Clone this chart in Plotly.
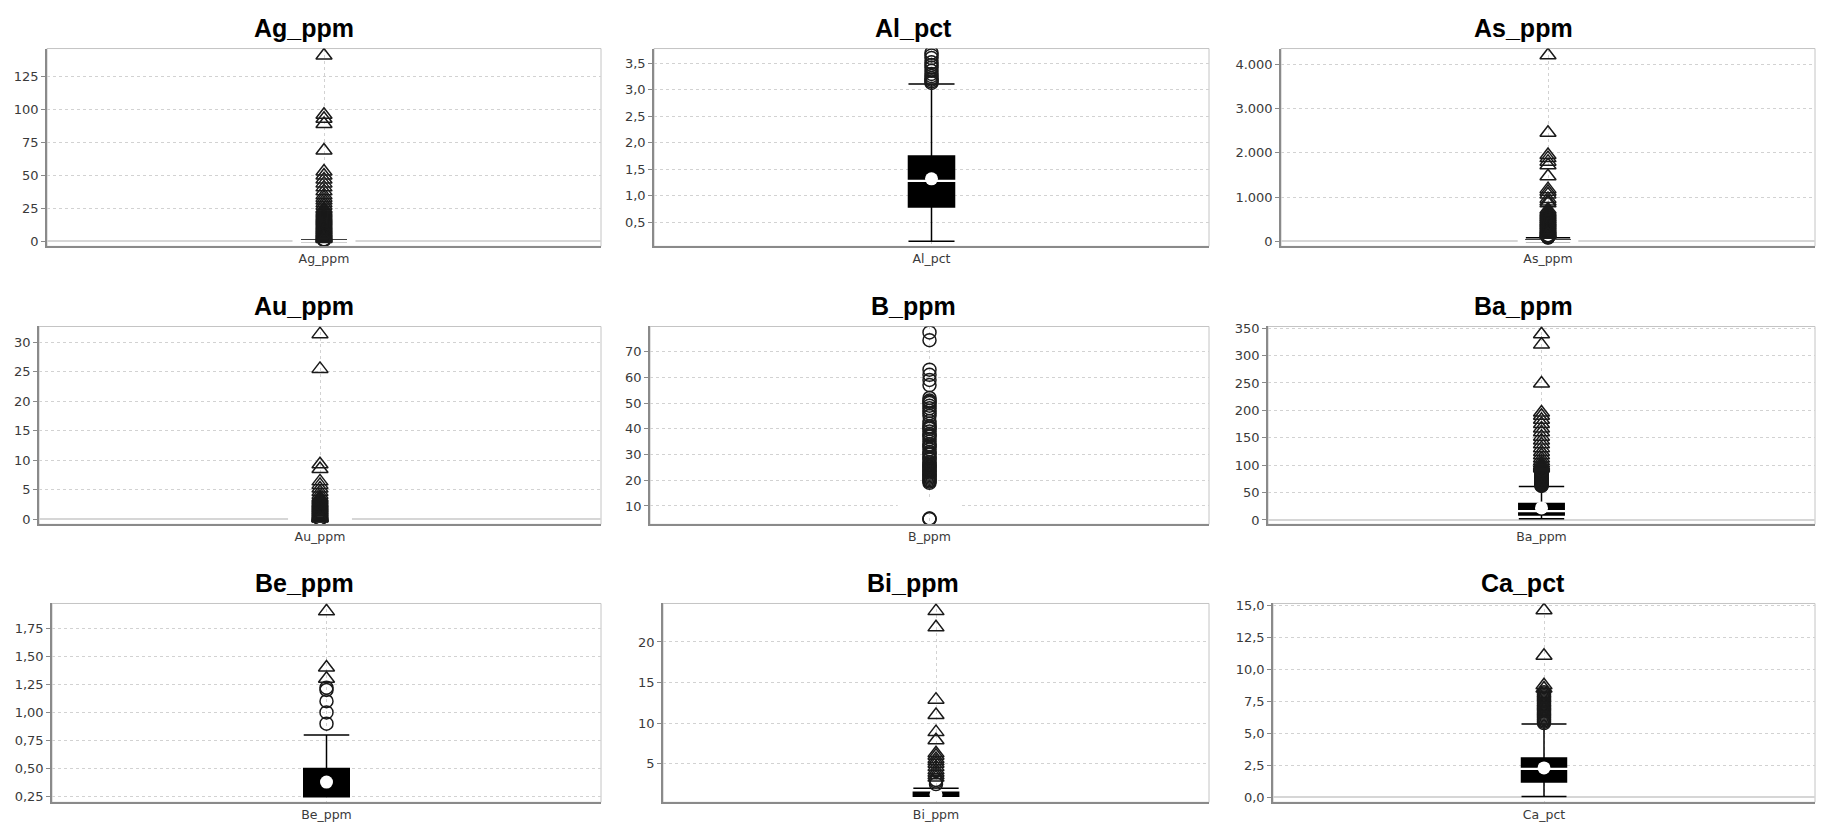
import plotly.graph_objects as go

# ---------------- data ----------------
NAMES = ["Ag_ppm", "Al_pct", "As_ppm", "Au_ppm", "B_ppm", "Ba_ppm", "Be_ppm", "Bi_ppm", "Ca_pct"]

LOWER = [0.03, 0.14, 0.5, 0.0025, 10, 2.4, 0.25, 1.0, 0.08]
Q1 = [0.1, 0.79, 5, 0.005, 10, 9, 0.25, 1.0, 1.2]
MEDIAN = [0.25, 1.28, 12, 0.01, 10, 16, 0.25, 1.0, 2.22]
Q3 = [0.5, 1.75, 40, 0.03, 10, 30, 0.5, 1.5, 3.07]
UPPER = [1.1, 3.11, 85, 0.06, 10, 61, 0.8, 2.0, 5.72]
MEAN = [1.9, 1.32, 95, 0.2, 10.4, 22, 0.38, 1.2, 2.3]

AG_MILD = [1.2, 1.3, 1.4, 1.5, 1.6]
AG_EXTREME = [141, 96, 93, 89, 69, 53, 50, 47, 44, 41, 38, 35, 33, 31, 29, 27, 25, 24, 23, 22,
              21, 20, 19.2, 18.4, 17.6, 16.8, 16, 15.3, 14.5, 13.7, 12.9, 12.1, 11.4, 10.6, 9.9,
              9.2, 8.5, 7.9, 7.2, 6.6, 6.0, 5.4, 4.9, 4.4, 3.9, 3.4, 3.0, 2.6, 2.2, 1.8]
AL_MILD = [3.13, 3.16, 3.19, 3.22, 3.26, 3.3, 3.36, 3.42, 3.47, 3.52, 3.6, 3.65, 3.7]
AL_EXTREME = []
AS_MILD = [90, 95, 100, 105, 110, 115, 120, 125, 130, 135, 140]
AS_EXTREME = [4200, 2450, 1950, 1880, 1800, 1720, 1470, 1180, 1120, 1060, 960, 900, 860, 720,
              690, 660, 635, 610, 585, 560, 540, 515, 495, 470, 450, 430, 410, 390, 370, 350,
              330, 310, 290, 275, 260, 245, 230, 215, 200, 190, 180, 170, 160, 150]
AU_MILD = [0.07, 0.08, 0.09, 0.1]
AU_EXTREME = [31.4, 25.5, 9.3, 8.5, 6.4, 5.8, 5.2, 4.6, 4.1, 3.7, 3.5, 3.3, 3.1, 2.9, 2.75, 2.6,
              2.45, 2.3, 2.15, 2.0, 1.85, 1.7, 1.55, 1.4, 1.25, 1.1, 0.95, 0.8, 0.7, 0.6, 0.5,
              0.42, 0.35, 0.28, 0.22, 0.17, 0.13, 0.11]
B_MILD = [4.9, 5.0, 5.1, 19, 19.5, 20, 20.5, 21, 21.5, 22, 22.5, 23, 23.5, 24, 24.5, 25, 25.5,
          26, 26.5, 27, 28, 28.5, 29, 30, 30.5, 31, 32, 33, 33.5, 34, 35, 36, 37, 37.5, 38, 39,
          40, 40.5, 41, 42, 43, 45, 46, 47, 48, 49, 50, 50.5, 51, 52, 57, 59, 61, 63, 74.5, 77.5]
B_EXTREME = []
BA_MILD = [62, 63, 64, 65, 66, 67, 68, 69, 70, 71, 72, 73, 74, 75, 76, 77, 78, 79, 80, 81, 82,
           83, 84, 85, 86, 87, 88, 89, 90, 91, 92]
BA_EXTREME = [94, 96, 98, 100, 103, 107, 112, 118, 124, 131, 138, 145, 152, 160, 167, 175, 183,
              190, 196, 249, 320, 339]
BE_MILD = [0.9, 1.0, 1.1, 1.2, 1.22]
BE_EXTREME = [1.3, 1.4, 1.9]
BI_MILD = [2.5, 2.8, 3.0]
BI_EXTREME = [3.3, 3.6, 3.9, 4.2, 4.6, 5.0, 5.3, 5.6, 6.0, 6.3, 7.9, 8.9, 11.0, 12.9, 21.8, 23.8]
CA_MILD = [5.8, 5.9, 6.0, 6.1, 6.2, 6.3, 6.4, 6.5, 6.6, 6.7, 6.8, 6.9, 7.0, 7.1, 7.2, 7.3, 7.4,
           7.5, 7.6, 7.7, 7.8, 7.9, 8.0, 8.1, 8.2]
CA_EXTREME = [8.5, 8.75, 11.05, 14.6]

MILD = [AG_MILD, AL_MILD, AS_MILD, AU_MILD, B_MILD, BA_MILD, BE_MILD, BI_MILD, CA_MILD]
EXTREME = [AG_EXTREME, AL_EXTREME, AS_EXTREME, AU_EXTREME, B_EXTREME, BA_EXTREME, BE_EXTREME,
           BI_EXTREME, CA_EXTREME]

# axis settings
Y_LO = [-3.75, 0.045, -110, -0.9, 2.85, -8, 0.2, 0.26, -0.38]
Y_HI = [146.25, 3.78, 4350, 32.7, 79.8, 353, 1.97, 24.74, 15.13]
Y_DTICK = [25, 0.5, 1000, 5, 10, 50, 0.25, 5, 2.5]
Y_FMT = ["d", ".1f", ",d", "d", "d", "d", ".2f", "d", ".1f"]

# ---------------- layout geometry (pixels) ----------------
W, H = 1828, 833
PLOT_X = [(47, 601), (654, 1209), (1281, 1815),
          (39, 601), (650, 1209), (1268, 1815),
          (52, 601), (663, 1209), (1273, 1815)]
ROW_Y = [(43, 243), (324, 524), (604, 805)]
PANEL_CX = [304, 913, 1523]
BOX_W = 0.083

GRID = "#d2d2d2"
AXIS = "#8a8a8a"
TICKFONT = dict(family="DejaVu Sans, Verdana, sans-serif", size=13, color="#3a3a3a")

fig = go.Figure()
shapes = []
annotations = []
for i, name in enumerate(NAMES):
    r, c = divmod(i, 3)
    sfx = "" if i == 0 else str(i + 1)
    xa, ya = "x" + sfx, "y" + sfx
    x0, x1 = PLOT_X[i]
    y0, y1 = ROW_Y[r]
    box_px = BOX_W * (x1 - x0)

    fig.add_trace(go.Box(
        x=[name], q1=[Q1[i]], median=[MEDIAN[i]], q3=[Q3[i]],
        lowerfence=[LOWER[i]], upperfence=[UPPER[i]],
        width=BOX_W, whiskerwidth=1, fillcolor="black",
        line=dict(color="black", width=1.5), boxpoints=False,
        xaxis=xa, yaxis=ya, hoverinfo="skip"))
    if MEDIAN[i] not in (Q1[i], Q3[i]) or Q1[i] == Q3[i]:
        fig.add_trace(go.Scatter(
            x=[name], y=[MEDIAN[i]], mode="markers", xaxis=xa, yaxis=ya,
            marker=dict(symbol="line-ew", size=box_px - 1,
                        line=dict(color="white", width=2.2)),
            hoverinfo="skip"))
    fig.add_trace(go.Scatter(
        x=[name], y=[MEAN[i]], mode="markers", xaxis=xa, yaxis=ya,
        marker=dict(symbol="circle", size=13, color="white", line=dict(width=0)),
        hoverinfo="skip"))
    if MILD[i]:
        fig.add_trace(go.Scatter(
            x=[name] * len(MILD[i]), y=MILD[i], mode="markers", xaxis=xa, yaxis=ya,
            marker=dict(symbol="circle-open", size=13, color="#1a1a1a",
                        line=dict(color="#1a1a1a", width=1.5)),
            hoverinfo="skip"))
    if EXTREME[i]:
        fig.add_trace(go.Scatter(
            x=[name] * len(EXTREME[i]), y=EXTREME[i], mode="markers", xaxis=xa, yaxis=ya,
            marker=dict(symbol="triangle-up-open", size=14, color="#1a1a1a",
                        line=dict(color="#1a1a1a", width=1.5)),
            hoverinfo="skip"))

    fig.update_layout(**{
        ("xaxis" + sfx): dict(
            domain=[x0 / W, x1 / W], anchor=ya, type="category", range=[-0.5, 0.5],
            showgrid=True, gridcolor=GRID, griddash="3px,3px", gridwidth=1,
            showline=True, linecolor=AXIS, linewidth=1.5, ticks="",
            tickfont=dict(family="DejaVu Sans, Verdana, sans-serif", size=12.5, color="#3a3a3a"),
            zeroline=False, fixedrange=True),
        ("yaxis" + sfx): dict(
            domain=[1 - y1 / H, 1 - y0 / H], anchor=xa, range=[Y_LO[i], Y_HI[i]],
            tick0=0, dtick=Y_DTICK[i], tickformat=Y_FMT[i],
            showgrid=True, gridcolor=GRID, griddash="3px,3px", gridwidth=1,
            zeroline=True, zerolinecolor="#d6d6d6", zerolinewidth=2,
            showline=True, linecolor=AXIS, linewidth=1.5,
            ticks="outside", ticklen=4, tickcolor=AXIS, tickwidth=1,
            tickfont=TICKFONT, fixedrange=True),
    })
    shapes.append(dict(type="rect", xref=xa + " domain", yref=ya + " domain",
                       x0=0, x1=1, y0=0, y1=1, line=dict(color="#c4c4c4", width=1),
                       layer="below"))
    annotations.append(dict(
        text="<b>" + name + "</b>", xref="paper", yref="paper",
        x=PANEL_CX[c] / W, y=1 - (y0 - 21) / H, xanchor="center", yanchor="middle",
        showarrow=False,
        font=dict(family="Liberation Sans, Arial, sans-serif", size=25, color="black")))

fig.update_layout(
    width=W, height=H, margin=dict(l=0, r=0, t=0, b=0),
    paper_bgcolor="white", plot_bgcolor="white", showlegend=False,
    separators=",.", shapes=shapes, annotations=annotations)

fig.write_html("out.html",
               config={"displayModeBar": False},
               post_script="document.body.style.margin='0px';"
                           "document.body.style.overflow='hidden';")
